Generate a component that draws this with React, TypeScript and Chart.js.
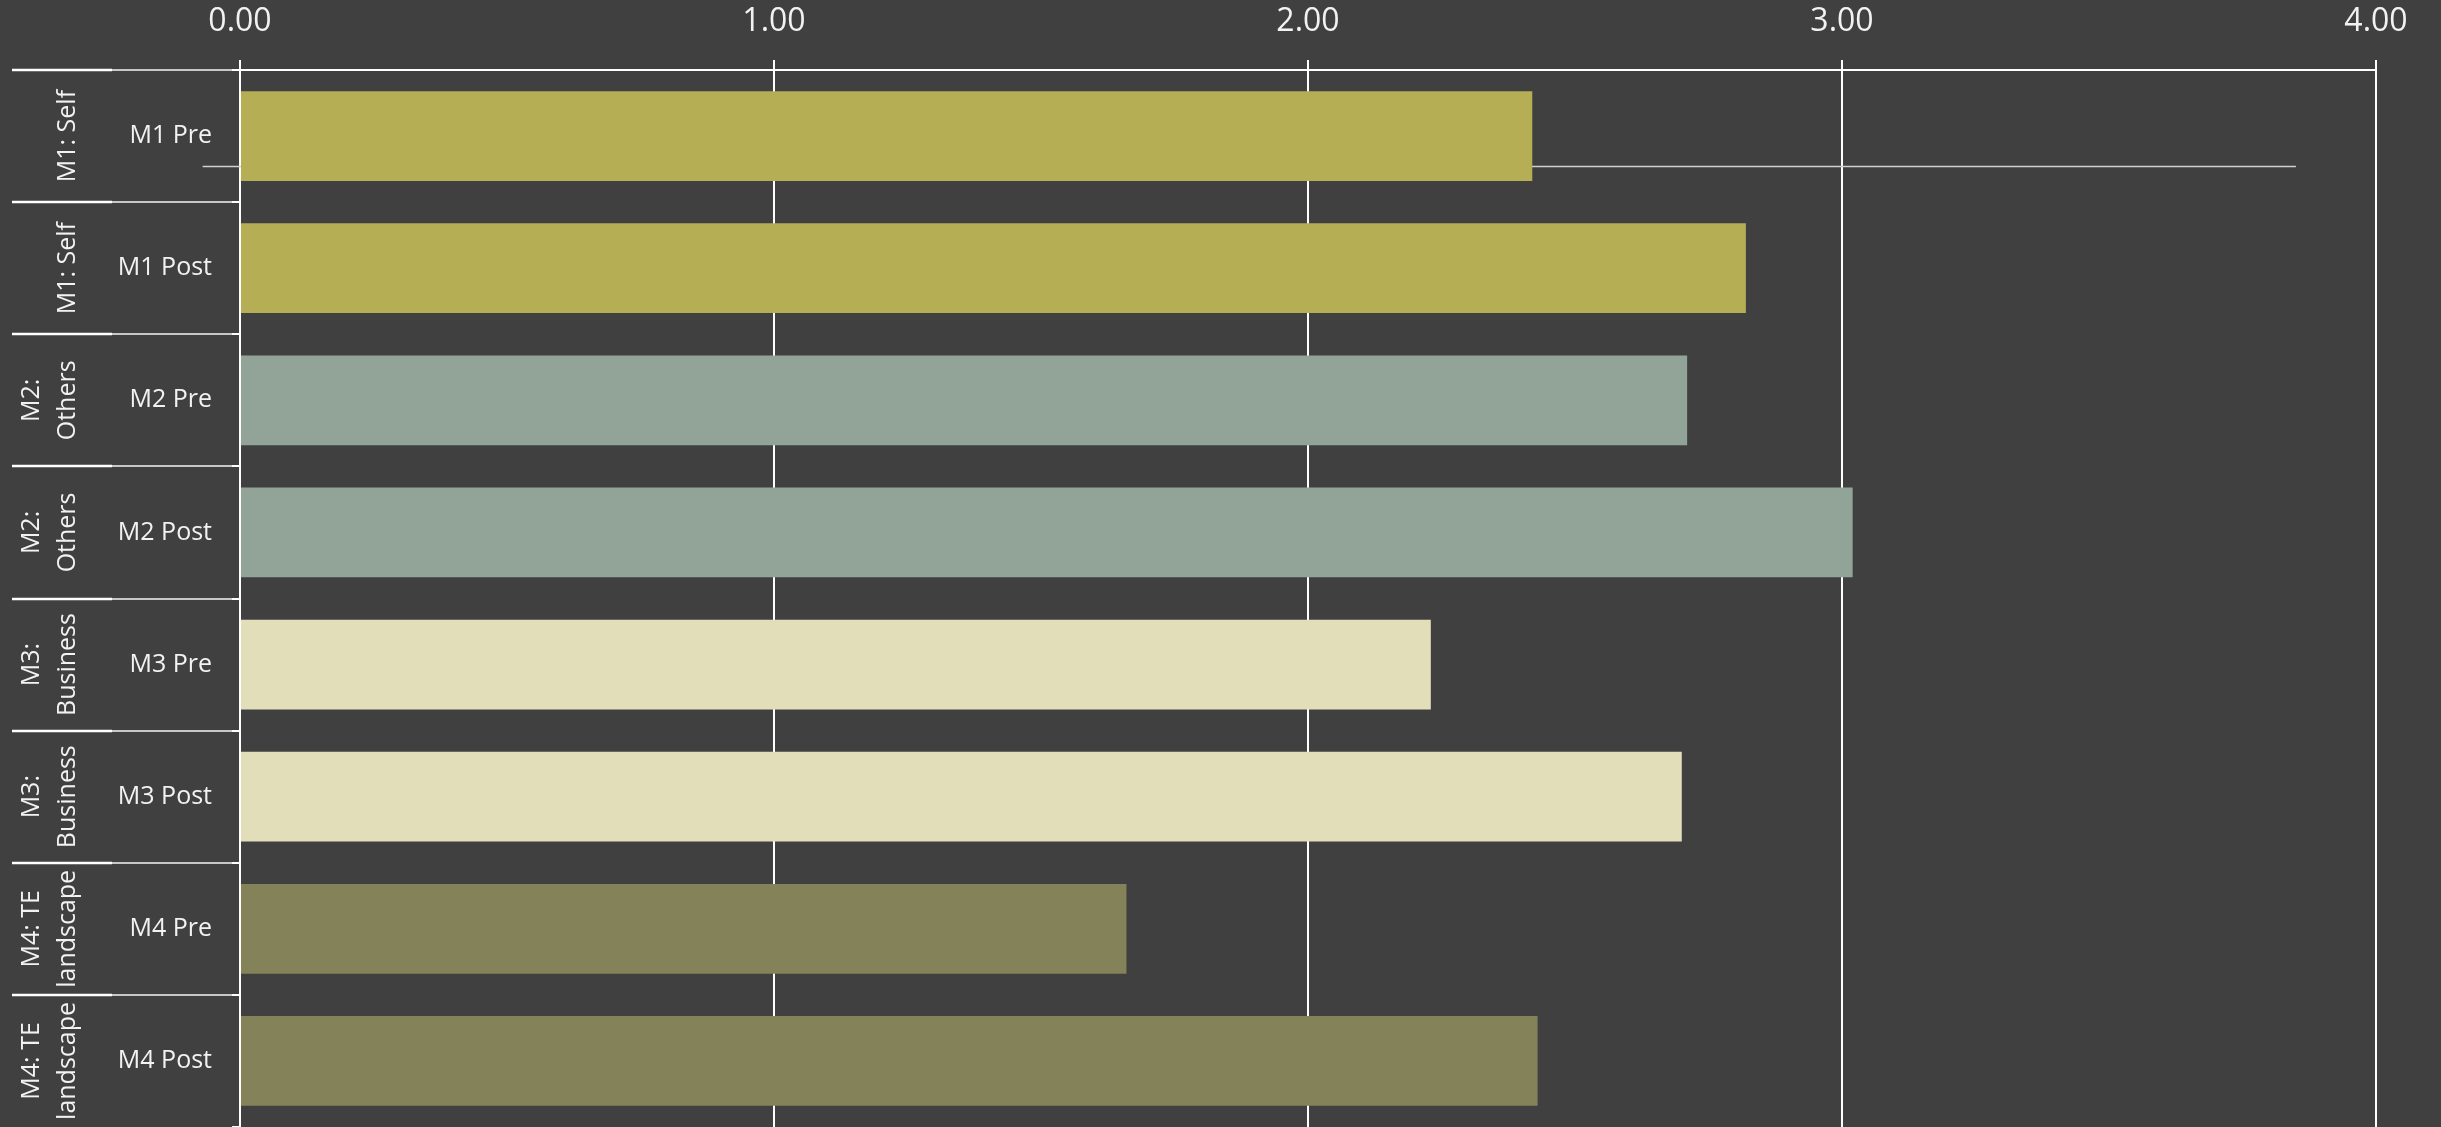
import React, { useEffect, useRef } from "react";
import { Chart, registerables } from "chart.js";

Chart.register(...registerables);

// ---- data ----
const categories = ["M1 Pre", "M1 Post", "M2 Pre", "M2 Post", "M3 Pre", "M3 Post", "M4 Pre", "M4 Post"];
const groupLabels = [
  ["M1: Self"],
  ["M1: Self"],
  ["M2:", "Others"],
  ["M2:", "Others"],
  ["M3:", "Business"],
  ["M3:", "Business"],
  ["M4: TE", "landscape"],
  ["M4: TE", "landscape"],
];
const scores = [2.42, 2.82, 2.71, 3.02, 2.23, 2.7, 1.66, 2.43];
// thin reference line: x extent (value units) and level in category units from the top
const refLineX = [-0.07, 3.85];
const refLineLevel = 0.73;
const xMin = 0;
const xMax = 4;
const xStep = 1;

// ---- styles ----
const barColors = ["#B5AE55", "#B5AE55", "#92A398", "#92A398", "#E1DEB9", "#E1DEB9", "#848259", "#848259"];
const BG = "#404040";
const TEXT = "#F2F2F2";
const FONT = "'Open Sans', 'DejaVu Sans', sans-serif";

const decorPlugin = {
  id: "decor",
  beforeDatasetsDraw(chart: any) {
    const x = chart.scales.x;
    const y = chart.scales.y;
    const ctx = chart.ctx as CanvasRenderingContext2D;
    const py = y.getPixelForValue(refLineLevel - 0.5);
    ctx.save();
    ctx.strokeStyle = "#D0D0D0";
    ctx.lineWidth = 1.5;
    ctx.beginPath();
    ctx.moveTo(x.getPixelForValue(refLineX[0]), py);
    ctx.lineTo(x.getPixelForValue(refLineX[1]), py);
    ctx.stroke();
    ctx.restore();
  },
  afterDraw(chart: any) {
    const y = chart.scales.y;
    const ctx = chart.ctx as CanvasRenderingContext2D;
    ctx.save();
    // row separators in the label area
    for (let i = 0; i < categories.length; i++) {
      const py = Math.round(y.getPixelForValue(i - 0.5));
      ctx.strokeStyle = "#FFFFFF";
      ctx.lineWidth = 2.5;
      ctx.beginPath();
      ctx.moveTo(12, py);
      ctx.lineTo(112, py);
      ctx.stroke();
      ctx.strokeStyle = "#C8C8C8";
      ctx.lineWidth = 2;
      ctx.beginPath();
      ctx.moveTo(112, py);
      ctx.lineTo(y.right - 8, py);
      ctx.stroke();
    }
    // rotated group labels
    ctx.fillStyle = TEXT;
    ctx.font = `25px ${FONT}`;
    ctx.textAlign = "center";
    ctx.textBaseline = "middle";
    for (let i = 0; i < groupLabels.length; i++) {
      const cy = y.getPixelForValue(i);
      const lines = groupLabels[i];
      ctx.save();
      ctx.translate(68, cy);
      ctx.rotate(-Math.PI / 2);
      const n = lines.length;
      for (let j = 0; j < n; j++) {
        ctx.fillText(lines[j], 0, -(n - 1 - j) * 36);
      }
      ctx.restore();
    }
    ctx.restore();
  },
};

export default function App() {
  const ref = useRef<HTMLCanvasElement | null>(null);
  useEffect(() => {
    if (!ref.current) return;
    const chart = new Chart(ref.current, {
      type: "bar",
      data: {
        labels: categories,
        datasets: [
          {
            data: scores,
            backgroundColor: barColors,
            borderWidth: 0,
            barPercentage: 0.68,
            categoryPercentage: 1,
          },
        ],
      },
      options: {
        indexAxis: "y",
        responsive: false,
        animation: false,
        devicePixelRatio: 1,
        layout: { padding: { left: 0, top: 0, right: 65, bottom: 0 } },
        plugins: { legend: { display: false }, tooltip: { enabled: false } },
        scales: {
          x: {
            type: "linear",
            position: "top",
            min: xMin,
            max: xMax,
            afterFit: (s: any) => {
              s.height = 70;
            },
            ticks: {
              stepSize: xStep,
              color: TEXT,
              font: { family: FONT, size: 32 },
              padding: 19,
              callback: (v: any) => Number(v).toFixed(2),
            },
            grid: {
              color: "#FFFFFF",
              lineWidth: 2,
              drawTicks: true,
              tickLength: 10,
            },
            border: { display: true, color: "#FFFFFF", width: 2 },
          },
          y: {
            type: "category",
            position: "left",
            afterFit: (s: any) => {
              s.width = 240;
              s.paddingTop = 0;
              s.paddingBottom = 0;
            },
            ticks: {
              color: TEXT,
              font: { family: FONT, size: 25 },
              padding: 20,
              autoSkip: false,
            },
            grid: {
              offset: true,
              drawOnChartArea: false,
              drawTicks: true,
              tickLength: 8,
              color: "#FFFFFF",
              lineWidth: 2,
            },
            border: { display: true, color: "#FFFFFF", width: 2 },
          },
        },
      } as any,
      plugins: [decorPlugin],
    });
    return () => chart.destroy();
  }, []);
  return (
    <div style={{ position: "fixed", left: 0, top: 0, width: 2441, height: 1127, background: BG }}>
      <canvas ref={ref} width={2441} height={1127} style={{ display: "block" }} />
    </div>
  );
}
